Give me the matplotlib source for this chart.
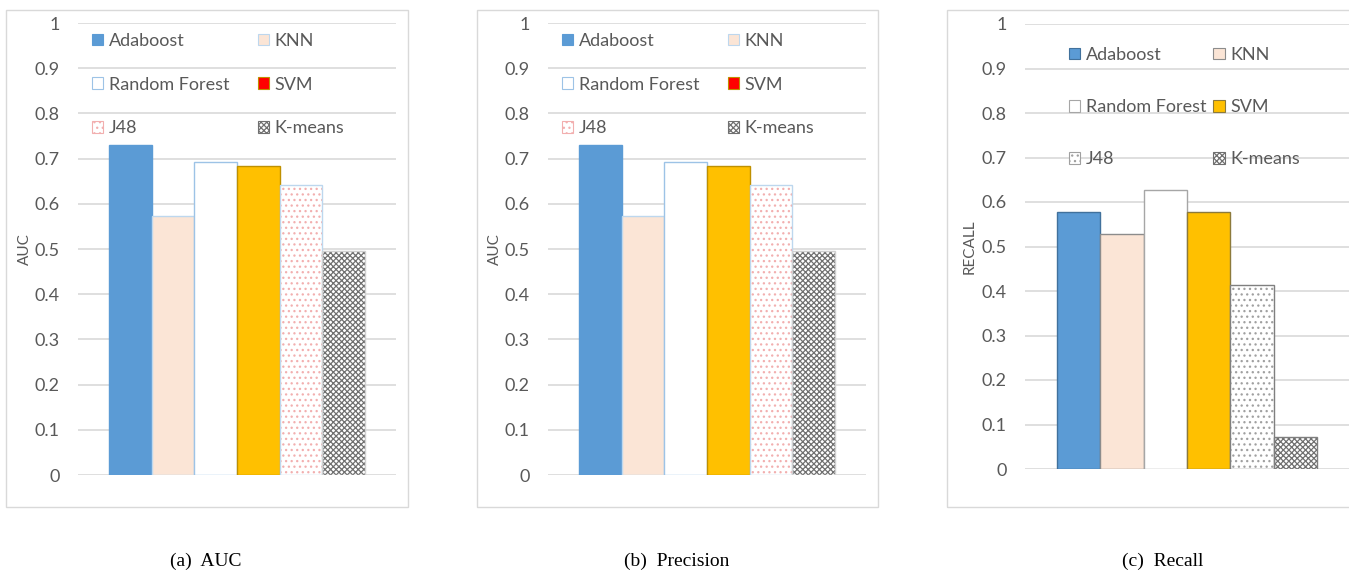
import numpy as np
import matplotlib
matplotlib.use("Agg")
import matplotlib.pyplot as plt
from matplotlib.patches import Patch, Rectangle

models = ["Adaboost", "KNN", "Random Forest", "SVM", "J48", "K-means"]
auc = [0.730, 0.573, 0.693, 0.684, 0.641, 0.495]
precision = [0.730, 0.573, 0.693, 0.684, 0.641, 0.495]
recall = [0.578, 0.528, 0.628, 0.578, 0.413, 0.072]

y_ticks = [0, 0.1, 0.2, 0.3, 0.4, 0.5, 0.6, 0.7, 0.8, 0.9, 1]
y_tick_labels = ["0", "0.1", "0.2", "0.3", "0.4", "0.5", "0.6", "0.7", "0.8", "0.9", "1"]

W, H = 1349, 574
plt.rcParams['font.family'] = ['Lato', 'DejaVu Sans']
plt.rcParams['hatch.linewidth'] = 0.9

GREY_TXT = '#595959'
GRID = '#D9D9D9'
FS = 13


def fx(px):
    return px / W


def fy(py):
    return 1 - py / H


# fill, hatch colour, hatch, outline -- first for the blue-edged charts, then the grey-edged one
style_blue = [
    ('#5B9BD5', None, None, '#5B9BD5'),
    ('#FBE5D6', None, None, '#BDD7EE'),
    ('white', None, None, '#9DC3E6'),
    ('#FFC000', None, None, '#BF9000'),
    ('white', '#F2AFAF', '...', '#BDD7EE'),
    ('white', '#707070', 'xxxxxx', '#D0D0D0'),
]
style_grey = [
    ('#5B9BD5', None, None, '#41719C'),
    ('#FBE5D6', None, None, '#8C8C8C'),
    ('white', None, None, '#A6A6A6'),
    ('#FFC000', None, None, '#8C7A3C'),
    ('white', '#A0A0A0', '...', '#7F7F7F'),
    ('white', '#707070', 'xxxxxx', '#7F7F7F'),
]
# legend swatch colours of the first two charts (SVM shown in red there)
legend_blue = ['#5B9BD5', '#FBE5D6', 'white', '#FF0000', 'white', 'white']


def draw_panel(ax, values, styles, swatches, ylabel, legend_anchor, rowgap, colgap):
    x = np.arange(len(values))
    for i, (fc, hc, hatch, ec) in enumerate(styles):
        if hatch:
            ax.bar(x[i], values[i], width=1.0, color=fc, edgecolor=hc, hatch=hatch,
                   linewidth=0, zorder=2)
            ax.bar(x[i], values[i], width=1.0, fill=False, edgecolor=ec, linewidth=1.0, zorder=3)
        else:
            ax.bar(x[i], values[i], width=1.0, color=fc, edgecolor=ec, linewidth=1.0, zorder=2)

    ax.set_ylim(0, 1)
    ax.set_xlim(-1.24, 6.24)
    ax.set_yticks(y_ticks)
    ax.set_yticklabels(y_tick_labels)
    ax.set_xticks([])
    ax.tick_params(axis='y', length=0, pad=13, labelsize=FS, labelcolor=GREY_TXT)
    for s in ax.spines.values():
        s.set_visible(False)
    ax.yaxis.grid(True, color=GRID, linewidth=1.2)
    ax.set_axisbelow(True)
    ax.set_ylabel(ylabel, fontsize=11, color=GREY_TXT)

    handles = []
    for (fc, hc, hatch, ec), sw in zip(styles, swatches):
        if hatch:
            handles.append(Patch(facecolor=sw, edgecolor=hc, hatch=hatch, linewidth=0.8))
        else:
            handles.append(Patch(facecolor=sw, edgecolor=ec, linewidth=0.8))
    order = [0, 2, 4, 1, 3, 5]
    ax.legend([handles[i] for i in order], [models[i] for i in order], ncol=2,
              loc='upper left', bbox_to_anchor=legend_anchor, bbox_transform=fig.transFigure,
              frameon=False, fontsize=FS, labelcolor=GREY_TXT, borderpad=0, borderaxespad=0,
              handlelength=0.62, handleheight=0.62, handletextpad=0.3,
              labelspacing=rowgap, columnspacing=colgap)


fig = plt.figure(figsize=(W / 100, H / 100), dpi=100)

# panel frames
for left, right in [(6, 408), (477, 878), (947, 1352)]:
    fig.add_artist(Rectangle((fx(left), fy(507)), fx(right - left), (507 - 10) / H,
                             transform=fig.transFigure, fill=False,
                             edgecolor=GRID, linewidth=1.0))

ax1 = fig.add_axes([fx(78), fy(475), fx(318), 452 / H])
ax2 = fig.add_axes([fx(548), fy(475), fx(318), 452 / H])
ax3 = fig.add_axes([fx(1025), fy(469), fx(324), 445 / H])

draw_panel(ax1, auc, style_blue, legend_blue, 'AUC', (fx(92), fy(33)), 1.53, 1.58)
draw_panel(ax2, precision, style_blue, legend_blue, 'AUC', (fx(562), fy(33)), 1.53, 1.58)
draw_panel(ax3, recall, style_grey, [s[0] for s in style_grey], 'RECALL',
           (fx(1069), fy(47)), 2.0, 0.4)

ax1.yaxis.set_label_coords(-0.145, 0.5)
ax2.yaxis.set_label_coords(-0.145, 0.5)
ax3.yaxis.set_label_coords(-0.15, 0.5)

cap = dict(fontsize=14, family='Liberation Serif', ha='center', va='center')
fig.text(fx(206), fy(561), '(a)  AUC', **cap)
fig.text(fx(677), fy(561), '(b)  Precision', **cap)
fig.text(fx(1163), fy(561), '(c)  Recall', **cap)

fig.savefig("out.png", dpi=100)
